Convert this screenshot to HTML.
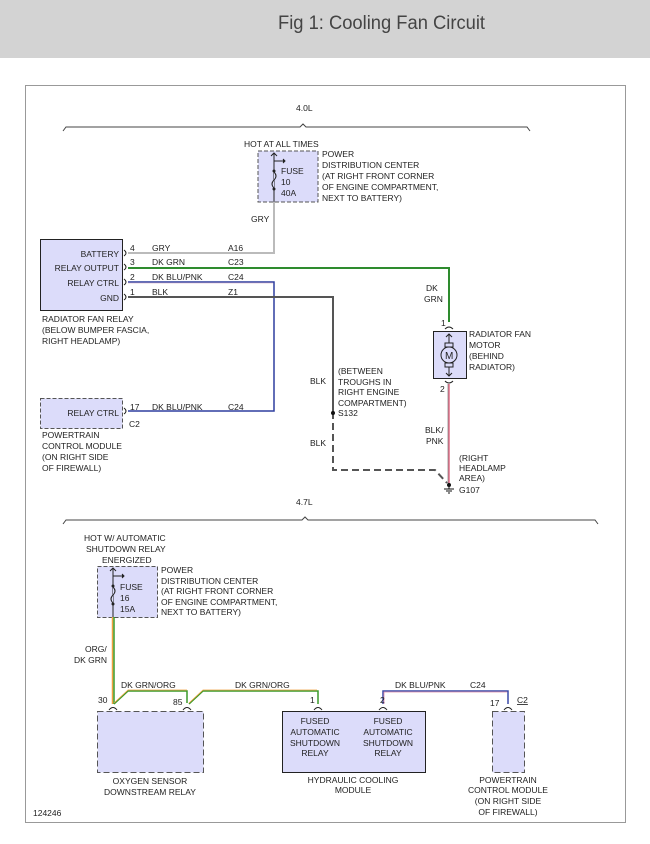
<!DOCTYPE html>
<html><head><meta charset="utf-8"><style>
html,body{margin:0;padding:0;background:#fff;}
svg{display:block;font-family:"Liberation Sans",Arial,sans-serif;}
text{font-size:8.5px;fill:#222;}
</style></head><body>
<svg width="650" height="844" viewBox="0 0 650 844" xmlns="http://www.w3.org/2000/svg">
<rect x="0" y="0" width="650" height="58" fill="#d3d3d3"/>
<text x="278" y="29" style="font-size:19px;fill:#444" textLength="207" lengthAdjust="spacingAndGlyphs">Fig 1: Cooling Fan Circuit</text>
<rect x="25.5" y="85.5" width="600" height="737" fill="#fff" stroke="#999" stroke-width="1"/>

<polyline points="63,131 66,127 300,127 303,124 306,127 527,127 530,131" fill="none" stroke="#444" stroke-width="1"/>
<text x="296" y="111">4.0L</text>

<text x="244" y="147">HOT AT ALL TIMES</text>
<rect x="258" y="151" width="60" height="51" fill="#dcdcfa" stroke="#555" stroke-dasharray="4,2"/>
<line x1="274" y1="153" x2="274" y2="202" stroke="#222"/>
<polyline points="271,156 274,153 277,156" fill="none" stroke="#222"/>
<line x1="274" y1="161" x2="285" y2="161" stroke="#222"/>
<polyline points="283,159 285,161 283,163" fill="#222" stroke="#222"/>
<circle cx="274" cy="171" r="1.5" fill="#222"/><circle cx="274" cy="189" r="1.5" fill="#222"/>
<path d="M274,172 q4,4 0,8 q-4,4 0,8" fill="#dcdcfa" stroke="#222"/>
<text x="281" y="174">FUSE</text><text x="281" y="185">10</text><text x="281" y="196">40A</text>
<text x="322" y="157">POWER</text>
<text x="322" y="168">DISTRIBUTION CENTER</text>
<text x="322" y="179">(AT RIGHT FRONT CORNER</text>
<text x="322" y="190">OF ENGINE COMPARTMENT,</text>
<text x="322" y="201">NEXT TO BATTERY)</text>
<text x="251" y="222">GRY</text>

<rect x="40.5" y="239.5" width="82" height="71" fill="#dcdcfa" stroke="#222"/>
<g text-anchor="end"><text x="119" y="257">BATTERY</text><text x="119" y="271">RELAY OUTPUT</text><text x="119" y="286">RELAY CTRL</text><text x="119" y="301">GND</text></g>
<g fill="none" stroke="#222"><path d="M124,250 q4,3 0,6"/><path d="M124,264 q4,3 0,6"/><path d="M124,279 q4,3 0,6"/><path d="M124,294 q4,3 0,6"/></g>
<text x="130" y="251">4</text><text x="130" y="265">3</text><text x="130" y="280">2</text><text x="130" y="295">1</text>
<text x="152" y="251">GRY</text><text x="152" y="265">DK GRN</text><text x="152" y="280">DK BLU/PNK</text><text x="152" y="295">BLK</text>
<text x="228" y="251">A16</text><text x="228" y="265">C23</text><text x="228" y="280">C24</text><text x="228" y="295">Z1</text>
<polyline points="128,253 274,253 274,202" fill="none" stroke="#bbb" stroke-width="2"/>
<polyline points="128,268 449,268 449,322" fill="none" stroke="#2e8b2e" stroke-width="2"/>
<polyline points="128,282 274,282 274,411 128,411" fill="none" stroke="#2f3f9f" stroke-width="1.5"/>
<polyline points="128,283 273,283" fill="none" stroke="#c9a0c0" stroke-width="0.6"/>
<polyline points="128,297 333,297 333,412" fill="none" stroke="#555" stroke-width="2"/>
<polyline points="333,412 333,470 435,470 447,483" fill="none" stroke="#555" stroke-width="2" stroke-dasharray="7,4"/>
<circle cx="333" cy="413" r="2" fill="#111"/>
<text x="42" y="322">RADIATOR FAN RELAY</text>
<text x="42" y="333">(BELOW BUMPER FASCIA,</text>
<text x="42" y="344">RIGHT HEADLAMP)</text>

<text x="426" y="291">DK</text><text x="424" y="302">GRN</text>
<text x="441" y="326">1</text>
<path d="M445,329 q4,-4 8,0" fill="none" stroke="#222"/>
<rect x="433.5" y="331.5" width="33" height="47" fill="#dcdcfa" stroke="#222"/>
<line x1="449" y1="334" x2="449" y2="376" stroke="#222"/>
<polyline points="446,337 449,334 452,337" fill="none" stroke="#222"/>
<polyline points="446,373 449,376 452,373" fill="none" stroke="#222"/>
<rect x="445" y="343" width="8" height="4" fill="#dcdcfa" stroke="#222"/>
<rect x="445" y="363" width="8" height="4" fill="#dcdcfa" stroke="#222"/>
<circle cx="449" cy="355" r="8" fill="#dcdcfa" stroke="#222"/>
<text x="445" y="359" style="font-size:10px">M</text>
<text x="469" y="337">RADIATOR FAN</text><text x="469" y="348">MOTOR</text><text x="469" y="359">(BEHIND</text><text x="469" y="370">RADIATOR)</text>
<path d="M445,381 q4,4 8,0" fill="none" stroke="#222"/>
<text x="440" y="392">2</text>
<line x1="449" y1="384" x2="449" y2="484" stroke="#e26a86" stroke-width="1.5"/>
<line x1="448" y1="384" x2="448" y2="484" stroke="#444" stroke-width="0.5"/>
<text x="425" y="433">BLK/</text><text x="426" y="444">PNK</text>
<text x="459" y="461">(RIGHT</text><text x="459" y="471">HEADLAMP</text><text x="459" y="481">AREA)</text>
<circle cx="449" cy="485" r="2" fill="#111"/>
<line x1="449" y1="485" x2="449" y2="489" stroke="#111"/>
<line x1="444" y1="489" x2="454" y2="489" stroke="#111"/><line x1="446" y1="491" x2="452" y2="491" stroke="#111"/><line x1="448" y1="493" x2="450" y2="493" stroke="#111"/>
<text x="459" y="493">G107</text>

<text x="310" y="384">BLK</text>
<text x="338" y="374">(BETWEEN</text><text x="338" y="385">TROUGHS IN</text><text x="338" y="395">RIGHT ENGINE</text><text x="338" y="406">COMPARTMENT)</text>
<text x="338" y="416">S132</text>
<text x="310" y="446">BLK</text>

<rect x="40.5" y="398.5" width="82" height="30" fill="#dcdcfa" stroke="#555" stroke-dasharray="4,2"/>
<text x="119" y="416" text-anchor="end">RELAY CTRL</text>
<path d="M124,408 q4,3 0,6" fill="none" stroke="#222"/>
<text x="130" y="410">17</text><text x="152" y="410">DK BLU/PNK</text><text x="228" y="410">C24</text>
<text x="129" y="427">C2</text>
<text x="42" y="438">POWERTRAIN</text><text x="42" y="449">CONTROL MODULE</text><text x="42" y="460">(ON RIGHT SIDE</text><text x="42" y="471">OF FIREWALL)</text>

<polyline points="63,524 66,520 302,520 305,517 308,520 595,520 598,524" fill="none" stroke="#444" stroke-width="1"/>
<text x="296" y="505">4.7L</text>

<text x="84" y="541">HOT W/ AUTOMATIC</text>
<text x="86" y="552">SHUTDOWN RELAY</text>
<text x="102" y="563">ENERGIZED</text>
<rect x="97.5" y="566.5" width="60" height="51" fill="#dcdcfa" stroke="#555" stroke-dasharray="4,2"/>
<line x1="113" y1="568" x2="113" y2="617" stroke="#222"/>
<polyline points="110,571 113,568 116,571" fill="none" stroke="#222"/>
<line x1="113" y1="576" x2="124" y2="576" stroke="#222"/>
<polyline points="122,574 124,576 122,578" fill="#222" stroke="#222"/>
<circle cx="113" cy="586" r="1.5" fill="#222"/><circle cx="113" cy="604" r="1.5" fill="#222"/>
<path d="M113,587 q4,4 0,8 q-4,4 0,8" fill="#dcdcfa" stroke="#222"/>
<text x="120" y="590">FUSE</text><text x="120" y="601">16</text><text x="120" y="612">15A</text>
<text x="161" y="573">POWER</text>
<text x="161" y="584">DISTRIBUTION CENTER</text>
<text x="161" y="594">(AT RIGHT FRONT CORNER</text>
<text x="161" y="605">OF ENGINE COMPARTMENT,</text>
<text x="161" y="615">NEXT TO BATTERY)</text>
<text x="85" y="652">ORG/</text><text x="74" y="663">DK GRN</text>

<line x1="112.5" y1="617" x2="112.5" y2="704" stroke="#f0a040" stroke-width="1.5"/>
<line x1="114" y1="617" x2="114" y2="704" stroke="#3a9a2a" stroke-width="1.5"/>
<g fill="none">
<polyline points="114,704 128,691 187,691 187,703" stroke="#3a9a2a" stroke-width="1.5"/>
<polyline points="114,703 128,690 187,690" stroke="#f0a040" stroke-width="0.8"/>
<polyline points="189,704 203,691 318,691 318,704" stroke="#3a9a2a" stroke-width="1.5"/>
<polyline points="189,703 203,690 317,690" stroke="#f0a040" stroke-width="0.8"/>
<polyline points="383,704 383,691 508,691 508,704" stroke="#3a4aa8" stroke-width="1.5"/>
<polyline points="384,704 384,692 507,692" stroke="#e08aa8" stroke-width="0.8"/>
</g>
<text x="121" y="688">DK GRN/ORG</text><text x="235" y="688">DK GRN/ORG</text>
<text x="395" y="688">DK BLU/PNK</text><text x="470" y="688">C24</text>
<text x="98" y="703">30</text><text x="173" y="705">85</text><text x="310" y="703">1</text><text x="380" y="703">2</text><text x="490" y="706">17</text>
<text x="517" y="703" text-decoration="underline">C2</text>
<g fill="none" stroke="#222"><path d="M109,710 q4,-5 8,0"/><path d="M183,710 q4,-5 8,0"/><path d="M314,710 q4,-5 8,0"/><path d="M379,710 q4,-5 8,0"/><path d="M504,710 q4,-5 8,0"/></g>

<rect x="97.5" y="711.5" width="106" height="61" fill="#dcdcfa" stroke="#555" stroke-dasharray="6,3"/>
<text x="150" y="784" text-anchor="middle">OXYGEN SENSOR</text>
<text x="150" y="795" text-anchor="middle">DOWNSTREAM RELAY</text>

<rect x="282.5" y="711.5" width="143" height="61" fill="#dcdcfa" stroke="#222"/>
<g text-anchor="middle"><text x="315" y="724">FUSED</text><text x="315" y="735">AUTOMATIC</text><text x="315" y="746">SHUTDOWN</text><text x="315" y="756">RELAY</text>
<text x="388" y="724">FUSED</text><text x="388" y="735">AUTOMATIC</text><text x="388" y="746">SHUTDOWN</text><text x="388" y="756">RELAY</text>
<text x="353" y="783">HYDRAULIC COOLING</text><text x="353" y="793">MODULE</text></g>

<rect x="492.5" y="711.5" width="32" height="61" fill="#dcdcfa" stroke="#555" stroke-dasharray="6,3"/>
<g text-anchor="middle"><text x="508" y="783">POWERTRAIN</text><text x="508" y="793">CONTROL MODULE</text><text x="508" y="804">(ON RIGHT SIDE</text><text x="508" y="815">OF FIREWALL)</text></g>

<text x="33" y="816">124246</text>
</svg>
</body></html>
